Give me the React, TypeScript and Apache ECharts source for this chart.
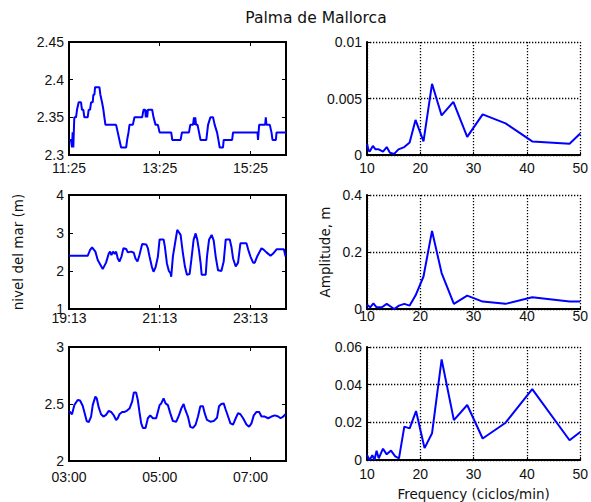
import React, { useEffect, useRef } from "react";
import * as echarts from "echarts";

// ---------- data ----------
const TITLE = "Palma de Mallorca";
const Y_NAME_LEFT = "nivel del mar (m)";
const Y_NAME_RIGHT = "Amplitude, m";
const X_NAME_RIGHT = "Frequency (ciclos/min)";

// time series: minutes since start, sea level (m)
const START_1 = 11 * 60 + 25; // 11:25
const START_2 = 19 * 60 + 13; // 19:13
const START_3 = 3 * 60; // 03:00

const t1 = [0, 2.6, 4, 4.8, 5.7, 7, 9.3, 10.6, 12.8, 15.9, 17.2, 19, 20.3, 24.7, 26, 27.8, 29.2, 31.4, 32.2, 33.6, 34.5, 40.2, 41.5, 43.7, 45.5, 46.8, 48.2, 62.3, 64.5, 66.7, 68.9, 75.6, 76.9, 78.7, 80, 84.4, 86.6, 96.8, 98.5, 100.8, 101.6, 102.5, 103.4, 104.3, 110, 111.8, 114.5, 117.6, 119.8, 135.2, 136.6, 147.6, 149.4, 158.7, 160.4, 164, 165.3, 166.2, 167, 168, 170, 172, 174, 181.6, 183.9, 187, 190.5, 192.7, 195.8, 197.6, 199.3, 203.7, 204.6, 215.7, 217, 249.3, 250, 251.5, 259.4, 260.3, 261.2, 265.6, 267.8, 269.2, 273.6, 274.5, 287];
const v1 = [2.32, 2.32, 2.31, 2.33, 2.31, 2.35, 2.35, 2.36, 2.37, 2.37, 2.36, 2.36, 2.35, 2.35, 2.36, 2.36, 2.37, 2.37, 2.38, 2.38, 2.39, 2.39, 2.38, 2.37, 2.36, 2.35, 2.34, 2.34, 2.33, 2.32, 2.31, 2.31, 2.32, 2.33, 2.34, 2.34, 2.35, 2.35, 2.36, 2.36, 2.35, 2.36, 2.35, 2.36, 2.36, 2.35, 2.34, 2.34, 2.33, 2.33, 2.32, 2.32, 2.33, 2.33, 2.34, 2.34, 2.35, 2.34, 2.35, 2.34, 2.34, 2.33, 2.32, 2.32, 2.34, 2.35, 2.35, 2.34, 2.33, 2.32, 2.31, 2.31, 2.32, 2.32, 2.33, 2.33, 2.32, 2.34, 2.34, 2.35, 2.34, 2.34, 2.33, 2.32, 2.32, 2.33, 2.33];

const t2 = [0, 24.7, 27.8, 30.5, 34.9, 38, 44.6, 49, 52.6, 54.3, 56.1, 58.3, 60.5, 62.3, 64.5, 66.7, 69.4, 72, 75.6, 77.8, 82.2, 85.7, 87.9, 90.6, 93.2, 96.8, 102.1, 104.3, 106.5, 109.6, 111.8, 114.5, 117.6, 119.8, 125.1, 126.8, 129.5, 132.1, 134.3, 135.2, 137.4, 140.1, 143.2, 145.4, 147.6, 150.7, 153.4, 156, 159.5, 161.8, 164.8, 167.5, 169.7, 171.9, 174.1, 175.5, 180.8, 182.5, 185.2, 188.7, 191.4, 194, 197.1, 201.5, 204.6, 207.3, 212.6, 214.8, 217, 220.5, 223.6, 226.7, 234.7, 236.9, 240, 243.5, 245.7, 248.8, 254.6, 256.8, 261.2, 266.5, 270, 274.5, 284.2, 286.4];
const v2 = [2.4, 2.4, 2.55, 2.62, 2.51, 2.29, 2.05, 2.22, 2.46, 2.51, 2.42, 2.51, 2.45, 2.51, 2.33, 2.25, 2.38, 2.6, 2.58, 2.49, 2.51, 2.48, 2.33, 2.25, 2.42, 2.71, 2.7, 2.6, 2.38, 2.11, 1.98, 2.1, 2.38, 2.83, 2.83, 2.64, 2.2, 2.0, 1.94, 1.85, 2.38, 2.71, 3.08, 3.02, 2.95, 2.46, 2.11, 1.9, 1.92, 2.29, 2.82, 2.99, 2.82, 2.55, 2.2, 1.9, 1.9, 2.38, 2.82, 2.95, 2.8, 2.38, 2.02, 2.0, 2.25, 2.83, 2.83, 2.64, 2.33, 2.12, 2.22, 2.73, 2.73, 2.57, 2.38, 2.22, 2.22, 2.38, 2.6, 2.57, 2.49, 2.4, 2.46, 2.57, 2.57, 2.38];

const t3 = [0, 4, 7, 11.5, 14.6, 18.1, 20.3, 23.4, 26.1, 29.2, 31.4, 34.9, 36.7, 39.3, 42.4, 45.5, 49, 52.6, 55.7, 58.8, 62.3, 64.5, 66.7, 70.3, 73.4, 76.4, 80, 83.5, 85.7, 88.8, 91, 93.2, 95.5, 97.7, 101.2, 104.3, 107.4, 111, 115.3, 119.8, 122, 125.1, 127.7, 130.8, 133.9, 137.4, 141.9, 145.4, 148.5, 151.6, 153.8, 157.3, 160.4, 164, 167.5, 170.6, 173.7, 177.2, 179.4, 182.5, 186.9, 191.4, 195.8, 198.4, 201.5, 204.6, 207.3, 210.4, 213.5, 217, 220.5, 223.6, 226.7, 230.3, 234.7, 238.2, 241.3, 244.4, 248, 251.5, 254.6, 259, 263.4, 267.8, 272.3, 276.7, 279.8, 283.3, 286.4];
const v3 = [2.44, 2.41, 2.49, 2.535, 2.53, 2.485, 2.43, 2.35, 2.34, 2.39, 2.49, 2.565, 2.55, 2.47, 2.41, 2.39, 2.405, 2.44, 2.43, 2.405, 2.36, 2.375, 2.41, 2.43, 2.43, 2.44, 2.46, 2.52, 2.6, 2.6, 2.535, 2.43, 2.33, 2.29, 2.29, 2.375, 2.4, 2.375, 2.375, 2.49, 2.505, 2.55, 2.505, 2.49, 2.42, 2.35, 2.345, 2.4, 2.46, 2.5, 2.45, 2.39, 2.3, 2.29, 2.32, 2.39, 2.48, 2.48, 2.42, 2.36, 2.345, 2.35, 2.38, 2.48, 2.5, 2.505, 2.45, 2.39, 2.33, 2.32, 2.375, 2.42, 2.41, 2.375, 2.32, 2.3, 2.33, 2.4, 2.43, 2.43, 2.39, 2.39, 2.375, 2.39, 2.4, 2.39, 2.375, 2.39, 2.41];

// spectra: frequency (ciclos/min), amplitude (m)
const f1 = [10, 10.3, 10.5, 11.1, 11.6, 12.2, 13.0, 13.7, 14.3, 15.1, 15.9, 17.0, 18.0, 19.1, 20.6, 22.2, 24.0, 26.2, 28.8, 31.7, 36.0, 41.0, 48.0, 50];
const a1 = [0.001, 0.0004, 0.0003, 0.0008, 0.0005, 0.0005, 0.0003, 0.0007, 0.0002, 0.0001, 0.0005, 0.0007, 0.0011, 0.0031, 0.0012, 0.0063, 0.0035, 0.0047, 0.0016, 0.0036, 0.0028, 0.0012, 0.001, 0.0019];
const f2 = [10, 10.6, 11.2, 11.8, 12.8, 13.7, 14.5, 15.1, 16.0, 17.0, 18.0, 19.1, 20.6, 22.2, 24.0, 26.3, 28.8, 31.7, 36.0, 41.0, 48.0, 50];
const a2 = [0.015, 0.006, 0.02, 0.006, 0.006, 0.018, 0.008, 0.0, 0.012, 0.018, 0.012, 0.047, 0.114, 0.274, 0.126, 0.018, 0.047, 0.026, 0.018, 0.041, 0.026, 0.026];
const f3 = [10, 10.5, 11.0, 11.4, 11.8, 12.2, 13.0, 13.7, 14.5, 15.3, 16.0, 17.0, 18.0, 19.2, 20.8, 22.2, 24.0, 26.3, 28.8, 31.7, 36.0, 41.0, 48.0, 50];
const a3 = [0.0026, 0.0, 0.0026, 0.0, 0.0049, 0.0009, 0.006, 0.003, 0.005, 0.0019, 0.0009, 0.0177, 0.0168, 0.026, 0.0063, 0.0142, 0.0534, 0.0212, 0.0292, 0.0114, 0.0198, 0.0376, 0.0105, 0.0149];

// axis ranges
const LEFT_Y = [
  { min: 2.3, max: 2.45, interval: 0.05 },
  { min: 1, max: 4, interval: 1 },
  { min: 2, max: 3, interval: 0.5 },
];
const RIGHT_Y = [
  { min: 0, max: 0.01, interval: 0.005 },
  { min: 0, max: 0.4, interval: 0.2 },
  { min: 0, max: 0.06, interval: 0.02 },
];
const TIME_SPAN = 287;
const TIME_STEP = 120;
const FREQ_MIN = 10;
const FREQ_MAX = 50;
const FREQ_STEP = 10;

// ---------- layout ----------
const LEFT_X = 69;
const RIGHT_X = 367;
const PW = 217;
const ROWS = [
  { top: 42, h: 113, lm: 6, rm: 6 },
  { top: 195, h: 114, lm: 2, rm: 0 },
  { top: 347, h: 114, lm: 9, rm: 7 },
];

const pad = (n: number) => (n < 10 ? "0" + n : "" + n);
const timeFmt = (start: number) => (v: number) => {
  const t = (((start + Math.round(v)) % 1440) + 1440) % 1440;
  return pad(Math.floor(t / 60)) + ":" + pad(t % 60);
};

const zip = (a: number[], b: number[]) => a.map((x, i) => [x, b[i]]);

const TICK_FONT = { fontFamily: '"Liberation Sans", Arial, sans-serif', fontSize: 14, color: "#111" };
const NAME_FONT = { fontFamily: '"DejaVu Sans", sans-serif', fontSize: 13.5, color: "#111" };
const BLUE = "#0000ff";

function buildOption() {
  const grid: any[] = [];
  const xAxis: any[] = [];
  const yAxis: any[] = [];
  const series: any[] = [];
  const starts = [START_1, START_2, START_3];
  const tsX = [t1, t2, t3];
  const tsY = [v1, v2, v3];
  const fX = [f1, f2, f3];
  const fY = [a1, a2, a3];

  ROWS.forEach((r, i) => {
    const gl = grid.length;
    grid.push({ left: LEFT_X, top: r.top, width: PW, height: r.h, show: true, borderColor: "#000", borderWidth: 2, backgroundColor: "transparent" });
    const gr = grid.length;
    grid.push({ left: RIGHT_X, top: r.top, width: PW, height: r.h, show: false });

    const axLine = { show: true, onZero: false, lineStyle: { color: "#000", width: 2 } };
    const tick = { show: true, inside: true, length: 4, lineStyle: { color: "#000", width: 1 } };

    // left panel axes
    const xl = xAxis.length;
    xAxis.push({
      type: "value", gridIndex: gl, position: "bottom", min: 0, max: TIME_SPAN, interval: TIME_STEP,
      axisLine: axLine, axisTick: tick, splitLine: { show: false },
      axisLabel: { ...TICK_FONT, margin: r.lm, formatter: timeFmt(starts[i]), showMaxLabel: false },
    });
    xAxis.push({
      type: "value", gridIndex: gl, position: "top", min: 0, max: TIME_SPAN, interval: TIME_STEP,
      axisLine: axLine, axisTick: tick, splitLine: { show: false }, axisLabel: { show: false },
    });
    const yl = yAxis.length;
    yAxis.push({
      type: "value", gridIndex: gl, position: "left", ...LEFT_Y[i],
      axisLine: axLine, axisTick: tick, splitLine: { show: false },
      axisLabel: { ...TICK_FONT, margin: 5, padding: [0, 0, 5, 0] },
      ...(i === 1 ? { name: Y_NAME_LEFT, nameLocation: "middle", nameGap: 44, nameRotate: 90, nameTextStyle: NAME_FONT } : {}),
    });
    yAxis.push({
      type: "value", gridIndex: gl, position: "right", ...LEFT_Y[i],
      axisLine: axLine, axisTick: tick, splitLine: { show: false }, axisLabel: { show: false },
    });

    // right panel axes
    const dotted = { show: true, lineStyle: { color: "#000", width: 1.3, type: [1.3, 1.7] } };
    const xr = xAxis.length;
    xAxis.push({
      type: "value", gridIndex: gr, position: "bottom", min: FREQ_MIN, max: FREQ_MAX, interval: FREQ_STEP,
      axisLine: axLine, axisTick: { ...tick, length: 3 }, splitLine: dotted,
      axisLabel: { ...TICK_FONT, margin: r.rm },
      ...(i === 2 ? { name: X_NAME_RIGHT, nameLocation: "middle", nameGap: 27, nameTextStyle: NAME_FONT } : {}),
    });
    const yr = yAxis.length;
    yAxis.push({
      type: "value", gridIndex: gr, position: "left", ...RIGHT_Y[i],
      axisLine: axLine, axisTick: { ...tick, length: 3 }, splitLine: dotted,
      axisLabel: { ...TICK_FONT, margin: 5, padding: [0, 0, 3, 0] },
      ...(i === 1 ? { name: Y_NAME_RIGHT, nameLocation: "middle", nameGap: 35, nameRotate: 90, nameTextStyle: NAME_FONT } : {}),
    });

    series.push({
      type: "line", xAxisIndex: xl, yAxisIndex: yl, data: zip(tsX[i], tsY[i]),
      showSymbol: false, symbol: "none", lineStyle: { color: BLUE, width: 2 }, itemStyle: { color: BLUE }, clip: true,
    });
    series.push({
      type: "line", xAxisIndex: xr, yAxisIndex: yr, data: zip(fX[i], fY[i]),
      showSymbol: false, symbol: "none", lineStyle: { color: BLUE, width: 2 }, itemStyle: { color: BLUE }, clip: true,
    });
  });

  return {
    animation: false,
    backgroundColor: "#ffffff",
    grid,
    xAxis,
    yAxis,
    series,
    graphic: [
      {
        type: "text",
        x: 316,
        y: 17.5,
        style: {
          text: TITLE,
          fill: "#111",
          font: '15.5px "DejaVu Sans", sans-serif',
          align: "center",
          verticalAlign: "middle",
          textAlign: "center",
          textVerticalAlign: "middle",
        },
      },
    ],
  };
}

export default function App() {
  const ref = useRef<HTMLDivElement>(null);
  useEffect(() => {
    if (!ref.current) return;
    const chart = echarts.init(ref.current, null, { renderer: "svg" });
    chart.setOption(buildOption() as any);
    return () => chart.dispose();
  }, []);
  return (
    <div
      ref={ref}
      style={{ position: "absolute", left: 0, top: 0, width: 591, height: 502, background: "#fff" }}
    />
  );
}
